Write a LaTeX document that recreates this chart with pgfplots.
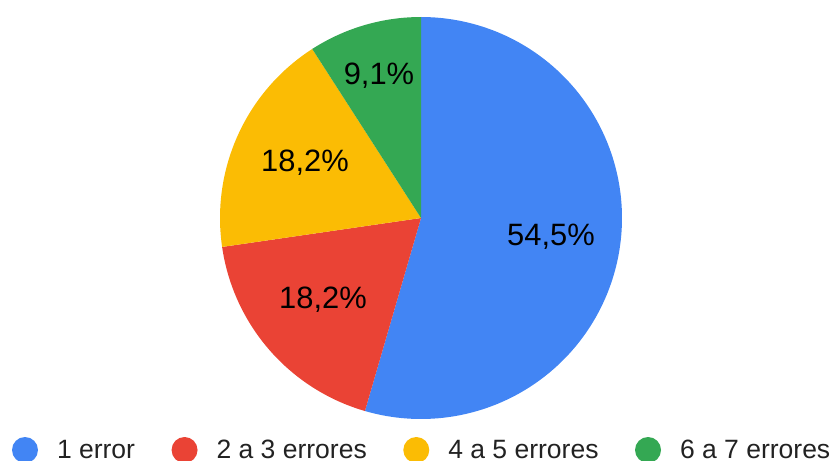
\documentclass[border=0pt]{standalone}
\usepackage{pgfplots}
\pgfplotsset{compat=1.18}
\usepackage{fontspec}
\setmainfont{Liberation Sans}
\definecolor{gblue}{HTML}{4285F4}
\definecolor{gred}{HTML}{EA4335}
\definecolor{gyellow}{HTML}{FBBC04}
\definecolor{ggreen}{HTML}{34A853}
\definecolor{legtext}{HTML}{222222}
\begin{document}
\begin{tikzpicture}
\begin{axis}[
  name=ax,
  width=834bp, height=461bp, scale only axis,
  xmin=0, xmax=834, ymin=0, ymax=461, y dir=reverse,
  hide axis, clip=false, no markers,
  legend columns=4,
  legend image code/.code={\fill[#1] (13bp,0bp) circle (13bp);},
  legend style={at={(axis cs:12,450)}, anchor=west, draw=none, fill=none,
    inner sep=0pt, outer sep=0pt,
    font=\fontsize{26.6}{30}\selectfont\color{legtext},
    nodes={inner sep=0pt, anchor=west},
    /tikz/every odd column/.append style={column sep=19bp},
    /tikz/every even column/.append style={column sep=36.5bp}},
]
% pie slices: 54.5 %, 18.2 %, 18.2 %, 9.1 % (clockwise from 12 o'clock)
\addplot[fill=gblue, draw=none, domain=90:-106.2, samples=150]
  ({421+201*cos(x)},{218-201*sin(x)}) -- (axis cs:421,218) -- cycle;
\addlegendentry{1 error}
\addplot[fill=gred, draw=none, domain=-106.2:-171.72, samples=60]
  ({421+201*cos(x)},{218-201*sin(x)}) -- (axis cs:421,218) -- cycle;
\addlegendentry{2 a 3 errores}
\addplot[fill=gyellow, draw=none, domain=-171.72:-237.24, samples=60]
  ({421+201*cos(x)},{218-201*sin(x)}) -- (axis cs:421,218) -- cycle;
\addlegendentry{4 a 5 errores}
\addplot[fill=ggreen, draw=none, domain=-237.24:-270, samples=40]
  ({421+201*cos(x)},{218-201*sin(x)}) -- (axis cs:421,218) -- cycle;
\addlegendentry{6 a 7 errores}
\node[font=\fontsize{31}{34}\selectfont] at (axis cs:551,237) {54,5\%};
\node[font=\fontsize{31}{34}\selectfont] at (axis cs:323,300) {18,2\%};
\node[font=\fontsize{31}{34}\selectfont] at (axis cs:305,163) {18,2\%};
\node[font=\fontsize{31}{34}\selectfont] at (axis cs:379,76) {9,1\%};
\end{axis}
\pgfresetboundingbox
\path[use as bounding box] (ax.south west) rectangle (ax.north east);
\end{tikzpicture}
\end{document}
